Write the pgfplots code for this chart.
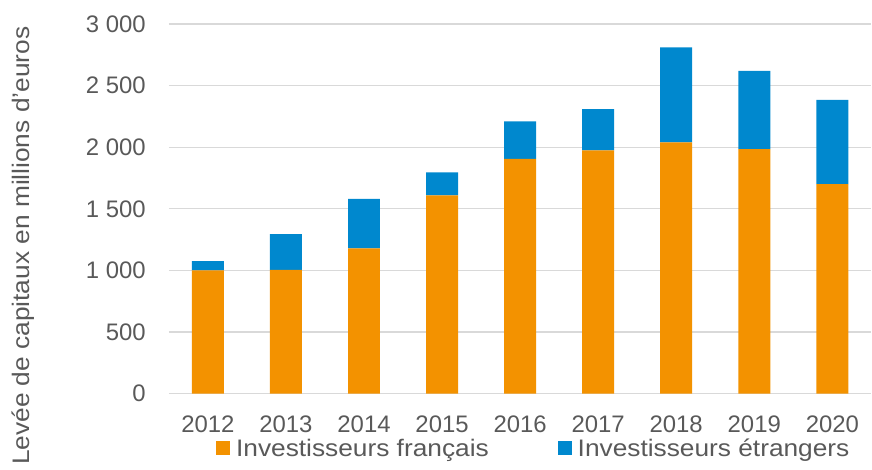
\documentclass[border=0pt]{standalone}
\usepackage{fontspec}
\setmainfont{Liberation Sans}
\newfontfamily\widefont[FakeStretch=1.1]{Liberation Sans}
\usepackage{pgfplots}
\pgfplotsset{compat=1.18}
\definecolor{orangefr}{HTML}{F39200}
\definecolor{blueet}{HTML}{0088CE}
\definecolor{gridgray}{HTML}{D9D9D9}
\definecolor{textgray}{HTML}{595959}

\begin{document}
\begin{tikzpicture}
\begin{axis}[
    name=ax,
    scale only axis,
    width=703bp, height=370bp,
    ybar stacked,
    bar width=32bp,
    xmin=-0.5, xmax=8.5,
    ymin=0, ymax=3000,
    xtick=data,
    xticklabels={2012,2013,2014,2015,2016,2017,2018,2019,2020},
    ytick={0,500,1000,1500,2000,2500,3000},
    yticklabels={0,500,1~000,1~500,2~000,2~500,3~000},
    ymajorgrids,
    grid style={gridgray, line width=1.3bp},
    axis line style={draw=none},
    major tick length=0pt,
    tick label style={font=\fontsize{24}{29}\selectfont, text=textgray},
    xticklabel style={anchor=center, yshift=-30.5bp},
    yticklabel style={anchor=east, inner sep=0pt, xshift=-23bp},
    ylabel={Levée de capitaux en millions d’euros},
    ylabel style={at={(axis description cs:0,0.4)}, anchor=center, yshift=146bp,
                  font=\widefont\fontsize{24}{29}\selectfont, text=textgray},
    legend columns=2,
    legend style={at={(axis description cs:0.518,0)}, anchor=center, yshift=-55bp,
                  draw=none, fill=none, inner sep=0pt, nodes={inner sep=0pt},
                  font=\widefont\fontsize{24}{29}\selectfont, text=textgray,
                  /tikz/every odd column/.append style={column sep=6bp},
                  /tikz/every even column/.append style={column sep=69bp}},
    legend image code/.code={\fill[#1] (0bp,-6bp) rectangle (14bp,7.5bp);},
]
\addplot[fill=orangefr, draw=none] coordinates
    {(0,1000) (1,1005) (2,1180) (3,1610) (4,1905) (5,1975) (6,2040) (7,1985) (8,1700)};
\addplot[fill=blueet, draw=none] coordinates
    {(0,75) (1,290) (2,400) (3,185) (4,305) (5,335) (6,770) (7,635) (8,685)};
\legend{Investisseurs français, Investisseurs étrangers}
\end{axis}
\path[use as bounding box] ([xshift=-169bp,yshift=-76bp]ax.south west) rectangle ([yshift=24bp]ax.north east);
\end{tikzpicture}
\end{document}
